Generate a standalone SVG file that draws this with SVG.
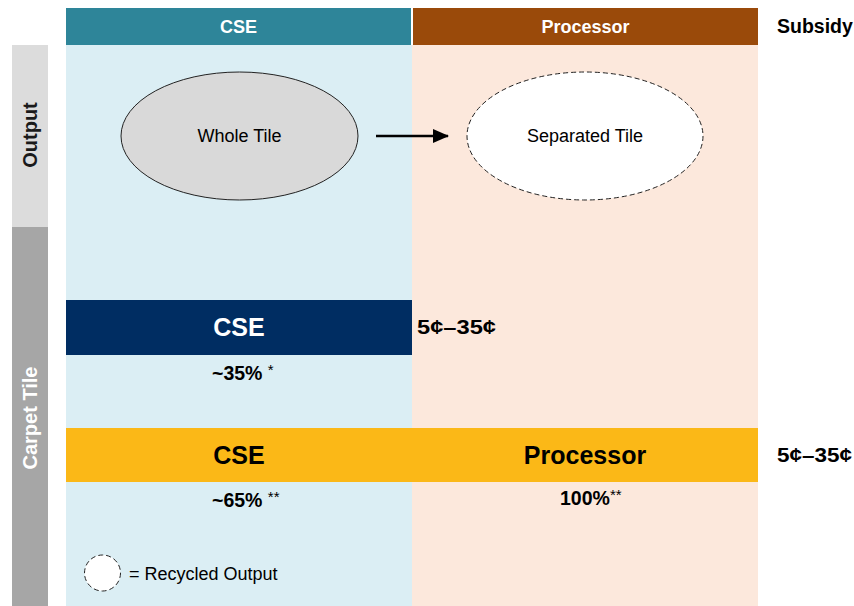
<svg xmlns="http://www.w3.org/2000/svg" width="854" height="606" viewBox="0 0 854 606">
<style>
text{font-family:"Liberation Sans",Arial,sans-serif;}
.hdr{font-size:18px;font-weight:bold;fill:#fff;text-anchor:middle;}
.lbl{font-size:18px;fill:#000;text-anchor:middle;}
.big{font-size:25px;font-weight:bold;text-anchor:middle;}
.pct{font-size:19.5px;font-weight:bold;fill:#000;}
.ast{font-size:15px;font-weight:normal;}
.side{font-size:20px;font-weight:bold;text-anchor:middle;}
.sub{font-size:19.5px;font-weight:bold;fill:#000;}
.cent{font-size:20px;font-weight:bold;fill:#000;}
</style>
<defs>
<marker id="ah" markerWidth="16" markerHeight="14" refX="15" refY="7" orient="auto" markerUnits="userSpaceOnUse">
<path d="M0,0 L16,7 L0,14 Z" fill="#000"/>
</marker>
</defs>
<rect width="854" height="606" fill="#fff"/>
<g id="columns">
<rect x="66" y="45" width="346" height="561" fill="#dbeef4"/>
<rect x="412" y="45" width="346" height="561" fill="#fce8dc"/>
</g>
<g id="hdr-cse"><rect x="66" y="8" width="345" height="37" fill="#2e8599"/><text class="hdr" x="238.5" y="33">CSE</text></g>
<g id="hdr-processor"><rect x="413" y="8" width="345" height="37" fill="#9a4a0a"/><text class="hdr" x="585.5" y="33">Processor</text></g>
<g id="subsidy"><text class="sub" x="777" y="33">Subsidy</text></g>
<g id="side-output"><rect x="12" y="45" width="36" height="182" fill="#dcdcdc"/><text class="side" fill="#1a1a1a" transform="translate(37,135) rotate(-90)">Output</text></g>
<g id="side-carpet"><rect x="12" y="227" width="36" height="379" fill="#a6a6a6"/><text class="side" fill="#fff" transform="translate(37,418) rotate(-90)">Carpet Tile</text></g>
<g id="whole-tile"><ellipse cx="239.5" cy="136" rx="118.5" ry="64" fill="#d9d9d9" stroke="#222" stroke-width="1"/><text class="lbl" x="239.5" y="142">Whole Tile</text></g>
<g id="separated-tile"><ellipse cx="585" cy="136" rx="118" ry="64" fill="#fff" stroke="#222" stroke-width="1" stroke-dasharray="5,3"/><text class="lbl" x="585" y="142">Separated Tile</text></g>
<g id="connectors"><line x1="376" y1="136" x2="448" y2="136" stroke="#000" stroke-width="2.5" marker-end="url(#ah)"/></g>
<g id="cse-navy"><rect x="66" y="300" width="346" height="55" fill="#002d62"/><text class="big" fill="#fff" x="239" y="336">CSE</text></g>
<g id="pct35"><text class="pct" x="212" y="380">~35% <tspan class="ast" dy="-5">*</tspan></text></g>
<g id="subsidy1"><text class="cent" x="417" y="334" textLength="79" lengthAdjust="spacingAndGlyphs">5¢–35¢</text></g>
<g id="cse-gold"><rect x="66" y="428" width="346" height="54" fill="#fbb817"/><text class="big" fill="#000" x="239" y="464">CSE</text></g>
<g id="processor-gold"><rect x="412" y="428" width="346" height="54" fill="#fbb817"/><text class="big" fill="#000" x="585" y="464">Processor</text></g>
<g id="subsidy2"><text class="cent" x="777" y="462" textLength="75" lengthAdjust="spacingAndGlyphs">5¢–35¢</text></g>
<g id="pct65"><text class="pct" x="212" y="507">~65% <tspan class="ast" dy="-5">**</tspan></text></g>
<g id="pct100"><text class="pct" x="560" y="505">100%<tspan class="ast" dy="-5">**</tspan></text></g>
<g id="legend"><circle cx="102.5" cy="573" r="18" fill="#fff" stroke="#222" stroke-width="1" stroke-dasharray="5,3"/><text x="129" y="580" font-size="18" fill="#000">= Recycled Output</text></g>
</svg>
